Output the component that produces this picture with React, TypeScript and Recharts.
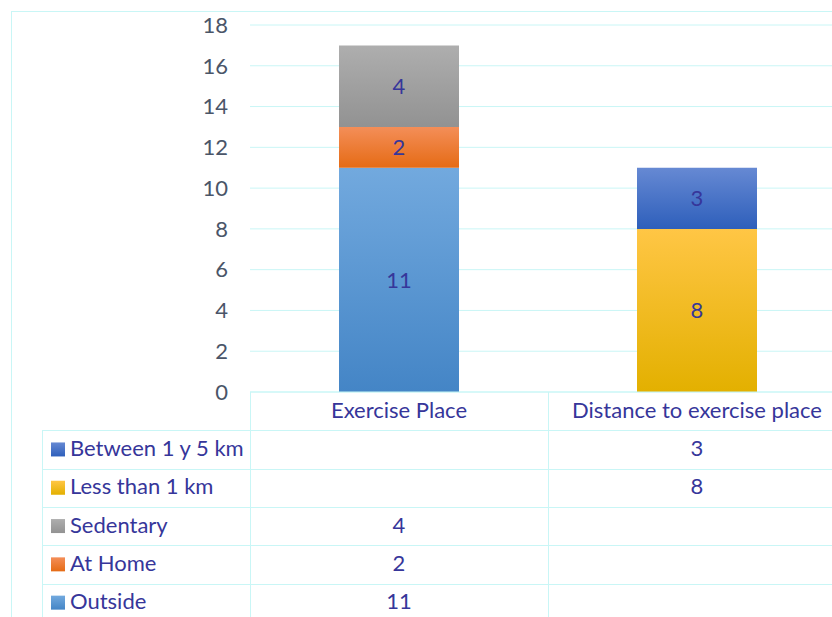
import React from 'react';
import { BarChart, Bar, XAxis, YAxis, CartesianGrid, LabelList } from 'recharts';

// categories and series values
const categories = ['Exercise Place', 'Distance to exercise place'];
const outside = [11, null];
const atHome = [2, null];
const sedentary = [4, null];
const lessThan1km = [null, 8];
const between1and5km = [null, 3];
const yTicks = [0, 2, 4, 6, 8, 10, 12, 14, 16, 18];

const FONT = 'Lato, "Open Sans", sans-serif';
const FS = 22;
const INK = '#36369a';
const AXIS_INK = '#4a5568';
const LINE = '#c9f6f6';

// stacking order bottom -> top
const series = [
  { key: 'outside', name: 'Outside', values: outside, top: '#72a9de', bottom: '#4485c6' },
  { key: 'atHome', name: 'At Home', values: atHome, top: '#f48e58', bottom: '#e56b15' },
  { key: 'sedentary', name: 'Sedentary', values: sedentary, top: '#aeaeae', bottom: '#929292' },
  { key: 'lessThan1km', name: 'Less than 1 km', values: lessThan1km, top: '#ffc645', bottom: '#e3b000' },
  { key: 'between1and5km', name: 'Between 1 y 5 km', values: between1and5km, top: '#6689d3', bottom: '#2e5fbb' },
];

const data = categories.map((name, i) => {
  const row: Record<string, any> = { name };
  series.forEach((s) => {
    row[s.key] = s.values[i];
  });
  return row;
});

// data table geometry (below the plot)
const TABLE_LEFT = 42;
const PLOT_LEFT = 250;
const PLOT_BOTTOM = 392;
const BAND = 298;
const ROW_H = 38.3;

function DataTable() {
  const rows = [...series].reverse();
  const headerBottom = PLOT_BOTTOM + ROW_H;
  return (
    <svg
      width={832}
      height={617}
      style={{ position: 'absolute', left: 0, top: 0, pointerEvents: 'none' }}
    >
      <defs>
        {series.map((s) => (
          <linearGradient key={s.key} id={`k_${s.key}`} x1="0" y1="0" x2="0" y2="1">
            <stop offset="0%" stopColor={s.top} />
            <stop offset="100%" stopColor={s.bottom} />
          </linearGradient>
        ))}
      </defs>
      <rect x={11.5} y={11.5} width={1000} height={1000} fill="none" stroke={LINE} />
      {/* vertical lines */}
      <line x1={TABLE_LEFT + 0.5} x2={TABLE_LEFT + 0.5} y1={headerBottom} y2={640} stroke={LINE} />
      {[0, 1, 2].map((i) => (
        <line
          key={i}
          x1={PLOT_LEFT + i * BAND + 0.5}
          x2={PLOT_LEFT + i * BAND + 0.5}
          y1={PLOT_BOTTOM}
          y2={640}
          stroke={LINE}
        />
      ))}
      {/* horizontal lines */}
      {rows.map((_, r) => (
        <line
          key={r}
          x1={TABLE_LEFT}
          x2={900}
          y1={Math.round(headerBottom + r * ROW_H) + 0.5}
          y2={Math.round(headerBottom + r * ROW_H) + 0.5}
          stroke={LINE}
        />
      ))}
      {rows.map((s, r) => {
        const cy = headerBottom + r * ROW_H + ROW_H / 2;
        return (
          <g key={s.key}>
            <rect x={51} y={cy - 7} width={14} height={14} fill={`url(#k_${s.key})`} />
            <text
              x={70}
              y={cy - 2}
              dominantBaseline="central"
              fontFamily={FONT}
              fontSize={FS}
              fill={INK}
            >
              {s.name}
            </text>
            {s.values.map((v, c) =>
              v == null ? null : (
                <text
                  key={c}
                  x={PLOT_LEFT + c * BAND + BAND / 2}
                  y={cy - 2}
                  textAnchor="middle"
                  dominantBaseline="central"
                  fontFamily={FONT}
                  fontSize={FS}
                  fill={INK}
                >
                  {v}
                </text>
              )
            )}
          </g>
        );
      })}
    </svg>
  );
}

export default function App() {
  return (
    <div
      style={{
        position: 'absolute',
        left: 0,
        top: 0,
        width: 832,
        height: 617,
        overflow: 'hidden',
        background: '#fff',
      }}
    >
      <BarChart
        width={860}
        height={617}
        data={data}
        margin={{ top: 25, right: 14, left: 190, bottom: 195 }}
      >
        <defs>
          {series.map((s) => (
            <linearGradient key={s.key} id={`g_${s.key}`} x1="0" y1="0" x2="0" y2="1">
              <stop offset="0%" stopColor={s.top} />
              <stop offset="100%" stopColor={s.bottom} />
            </linearGradient>
          ))}
        </defs>
        <CartesianGrid vertical={false} stroke={LINE} />
        <XAxis
          dataKey="name"
          interval={0}
          height={30}
          axisLine={{ stroke: LINE }}
          tickLine={false}
          tickSize={0}
          tickMargin={10}
          tick={{ fill: INK, fontSize: FS, fontFamily: FONT }}
        />
        <YAxis
          type="number"
          domain={[0, 18]}
          ticks={yTicks}
          width={60}
          axisLine={false}
          tickLine={false}
          tickSize={0}
          tickMargin={22}
          tick={{ fill: AXIS_INK, fontSize: FS, fontFamily: FONT }}
        />
        {series.map((s) => (
          <Bar
            key={s.key}
            dataKey={s.key}
            name={s.name}
            stackId="a"
            barSize={120}
            fill={`url(#g_${s.key})`}
            isAnimationActive={false}
          >
            <LabelList
              dataKey={s.key}
              position="center"
              fill={INK}
              fontSize={FS}
              fontFamily={FONT}
              formatter={(v: any) => (v == null ? '' : v)}
            />
          </Bar>
        ))}
      </BarChart>
      <DataTable />
    </div>
  );
}
